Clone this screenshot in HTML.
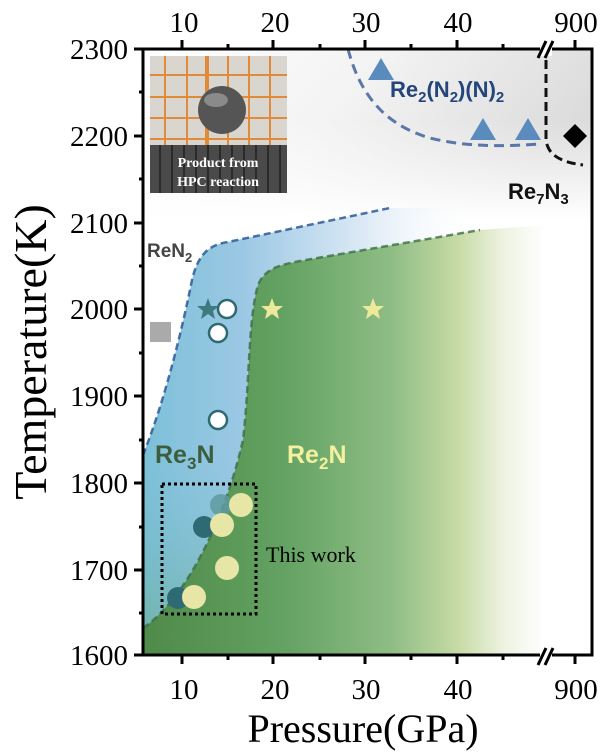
<!DOCTYPE html>
<html><head><meta charset="utf-8"><style>
html,body{margin:0;padding:0;background:#fff;}
svg{display:block;}
.t{font-family:"Liberation Serif",serif;}
.s{font-family:"Liberation Sans",sans-serif;font-weight:bold;}
</style></head><body>
<svg width="606" height="753" viewBox="0 0 606 753" xmlns="http://www.w3.org/2000/svg">
<defs>
<linearGradient id="gray" x1="0" y1="0" x2="1" y2="0.3">
<stop offset="0" stop-color="#fff"/><stop offset="0.5" stop-color="#f3f3f3"/><stop offset="1" stop-color="#dcdcdc"/></linearGradient>
<linearGradient id="grayv" x1="0" y1="0" x2="0" y2="1">
<stop offset="0" stop-color="#fff" stop-opacity="0"/><stop offset="1" stop-color="#fff" stop-opacity="1"/></linearGradient>
<linearGradient id="blue" gradientUnits="userSpaceOnUse" x1="143" y1="0" x2="480" y2="0">
<stop offset="0" stop-color="#7cc0d8"/><stop offset="0.3" stop-color="#9cc8e4"/><stop offset="0.65" stop-color="#dbe9f5"/><stop offset="1" stop-color="#fff" stop-opacity="0"/></linearGradient>
<linearGradient id="bluev" x1="0" y1="0" x2="0" y2="1">
<stop offset="0.5" stop-color="#6fbcd0" stop-opacity="0"/><stop offset="1" stop-color="#6aab8a"/></linearGradient>
<linearGradient id="green" gradientUnits="userSpaceOnUse" x1="143" y1="0" x2="545" y2="0">
<stop offset="0" stop-color="#4f8a4a"/><stop offset="0.35" stop-color="#63a262"/><stop offset="0.62" stop-color="#8fbd85"/><stop offset="0.78" stop-color="#c6daa4"/><stop offset="0.9" stop-color="#eef3e2"/><stop offset="1" stop-color="#fff"/></linearGradient>
</defs>
<rect x="143" y="49" width="449" height="170" fill="url(#gray)"/>
<rect x="143" y="120" width="449" height="100" fill="url(#grayv)"/>
<path d="M143,455 C165,400 182,330 192,280 C198,255 208,245 228,242 L390,208 L480,208 L480,655 L143,655 Z" fill="url(#blue)"/>
<path d="M143,455 C165,400 182,330 192,280 L250,280 L250,640 L143,640 Z" fill="url(#bluev)" opacity="0.6"/>
<path d="M143,628 C185,600 225,520 243,440 C250,380 248,320 258,285 C265,268 280,265 300,261 L480,230 L545,225 L550,655 L143,655 Z" fill="url(#green)"/>
<path d="M143,455 C165,400 182,330 192,280 C198,255 208,245 228,242 L390,208" fill="none" stroke="#2c5a9a" stroke-width="2.5" stroke-dasharray="7,4" opacity="0.85"/>
<path d="M143,628 C185,600 225,520 243,440 C250,380 248,320 258,285 C265,268 280,265 300,261 L480,230" fill="none" stroke="#3e6e45" stroke-width="2.5" stroke-dasharray="7,4" opacity="0.8"/>
<path d="M348,49 C360,95 385,125 430,138 C470,148 510,146 540,144" fill="none" stroke="#2a4f8f" stroke-width="3" stroke-dasharray="10,6" opacity="0.75"/>
<path d="M546,60 L546,140 C548,155 560,162 583,165" fill="none" stroke="#111" stroke-width="3" stroke-dasharray="9,5"/>
<rect x="150" y="56" width="137" height="137" fill="#d9d6cf"/>
<g stroke="#e08a3a" stroke-width="2">
<line x1="165" y1="56" x2="165" y2="145"/><line x1="187" y1="56" x2="187" y2="145"/><line x1="207" y1="56" x2="207" y2="145" stroke-width="4"/><line x1="228" y1="56" x2="228" y2="145"/><line x1="249" y1="56" x2="249" y2="145"/><line x1="270" y1="56" x2="270" y2="145"/>
<line x1="150" y1="75" x2="287" y2="75"/><line x1="150" y1="97" x2="287" y2="97"/><line x1="150" y1="118" x2="287" y2="118"/><line x1="150" y1="139" x2="287" y2="139"/>
</g>
<rect x="150" y="145" width="137" height="48" fill="#4a4a4a"/>
<g stroke="#2a2a2a" stroke-width="2"><line x1="160" y1="145" x2="160" y2="193"/><line x1="172" y1="145" x2="172" y2="193"/><line x1="184" y1="145" x2="184" y2="193"/><line x1="196" y1="145" x2="196" y2="193"/><line x1="208" y1="145" x2="208" y2="193"/><line x1="220" y1="145" x2="220" y2="193"/><line x1="232" y1="145" x2="232" y2="193"/><line x1="244" y1="145" x2="244" y2="193"/><line x1="256" y1="145" x2="256" y2="193"/><line x1="268" y1="145" x2="268" y2="193"/><line x1="280" y1="145" x2="280" y2="193"/></g>
<circle cx="222" cy="110" r="24" fill="#555"/>
<ellipse cx="216" cy="100" rx="12" ry="7" fill="#8a8a8a"/>
<text x="218" y="167" class="t" font-size="14" font-weight="bold" fill="#fff" text-anchor="middle">Product from</text>
<text x="218" y="186" class="t" font-size="14" font-weight="bold" fill="#fff" text-anchor="middle">HPC reaction</text>
<polygon points="368,80 381,58 394,80" fill="#5b8bbd"/>
<polygon points="470,140 483,118 496,140" fill="#5b8bbd"/>
<polygon points="515,140 528,118 541,140" fill="#5b8bbd"/>
<polygon points="575,124 587,136 575,148 563,136" fill="#000"/>
<text x="390" y="97" class="s" font-size="22" fill="#24457a">Re<tspan font-size="15" dy="5">2</tspan><tspan dy="-5">(N</tspan><tspan font-size="15" dy="5">2</tspan><tspan dy="-5">)(N)</tspan><tspan font-size="15" dy="5">2</tspan></text>
<text x="508" y="199" class="s" font-size="22" fill="#111">Re<tspan font-size="15" dy="5">7</tspan><tspan dy="-5">N</tspan><tspan font-size="15" dy="5">3</tspan></text>
<text x="147" y="257" class="s" font-size="19" fill="#444">ReN<tspan font-size="13" dy="5">2</tspan></text>
<text x="155" y="463" class="s" font-size="25" fill="#3c5e3c">Re<tspan font-size="17" dy="6">3</tspan><tspan dy="-6">N</tspan></text>
<text x="287" y="463" class="s" font-size="25" fill="#f3f0a0">Re<tspan font-size="17" dy="6">2</tspan><tspan dy="-6">N</tspan></text>
<rect x="150" y="322" width="21" height="20" fill="#aaa"/>
<polygon points="208,298 211,306 219,306 213,311 215,319 208,314 201,319 203,311 197,306 205,306" fill="#3f7a80"/>
<polygon points="272,298 275,306 283,306 277,311 279,319 272,314 265,319 267,311 261,306 269,306" fill="#ece99b"/>
<polygon points="373,298 376,306 384,306 378,311 380,319 373,314 366,319 368,311 362,306 370,306" fill="#ece99b"/>
<g fill="#fff" stroke="#2e6a70" stroke-width="2.5"><circle cx="227" cy="309" r="9"/><circle cx="218" cy="333" r="9"/><circle cx="218" cy="420" r="9"/></g>
<circle cx="221" cy="505" r="11" fill="#5f9aa0" opacity="0.85"/>
<circle cx="204" cy="527" r="11" fill="#2e6a73"/>
<circle cx="178" cy="598" r="11" fill="#2e6a73"/>
<circle cx="241" cy="505" r="12" fill="#e8e6a6"/>
<circle cx="222" cy="525" r="12" fill="#e8e6a6"/>
<circle cx="227" cy="568" r="12" fill="#e8e6a6"/>
<circle cx="194" cy="597" r="12" fill="#e8e6a6"/>
<rect x="162" y="484" width="94" height="130" fill="none" stroke="#000" stroke-width="3" stroke-dasharray="3,3"/>
<text x="266" y="562" class="t" font-size="22" fill="#000">This work</text>
<path d="M143,49 H592 V655 H143 Z" fill="none" stroke="#000" stroke-width="3"/>
<rect x="540" y="40" width="12" height="16" fill="#fff"/>
<rect x="540" y="648" width="12" height="16" fill="#fff"/>
<g stroke="#000" stroke-width="3">
<line x1="538" y1="58" x2="546" y2="41"/><line x1="545" y1="58" x2="553" y2="41"/>
<line x1="538" y1="665" x2="546" y2="648"/><line x1="545" y1="665" x2="553" y2="648"/>
<line x1="182" y1="49" x2="182" y2="40"/><line x1="273" y1="49" x2="273" y2="40"/><line x1="365" y1="49" x2="365" y2="40"/><line x1="457" y1="49" x2="457" y2="40"/><line x1="575" y1="49" x2="575" y2="40"/>
<line x1="228" y1="49" x2="228" y2="44"/><line x1="320" y1="49" x2="320" y2="44"/><line x1="411" y1="49" x2="411" y2="44"/><line x1="503" y1="49" x2="503" y2="44"/>
<line x1="182" y1="655" x2="182" y2="664"/><line x1="273" y1="655" x2="273" y2="664"/><line x1="365" y1="655" x2="365" y2="664"/><line x1="457" y1="655" x2="457" y2="664"/><line x1="575" y1="655" x2="575" y2="664"/>
<line x1="228" y1="655" x2="228" y2="660"/><line x1="320" y1="655" x2="320" y2="660"/><line x1="411" y1="655" x2="411" y2="660"/><line x1="503" y1="655" x2="503" y2="660"/>
<line x1="143" y1="49" x2="134" y2="49"/><line x1="143" y1="136" x2="134" y2="136"/><line x1="143" y1="223" x2="134" y2="223"/><line x1="143" y1="309" x2="134" y2="309"/><line x1="143" y1="396" x2="134" y2="396"/><line x1="143" y1="483" x2="134" y2="483"/><line x1="143" y1="570" x2="134" y2="570"/><line x1="143" y1="655" x2="134" y2="655"/>
<line x1="143" y1="92" x2="139" y2="92"/><line x1="143" y1="179" x2="139" y2="179"/><line x1="143" y1="266" x2="139" y2="266"/><line x1="143" y1="353" x2="139" y2="353"/><line x1="143" y1="440" x2="139" y2="440"/><line x1="143" y1="527" x2="139" y2="527"/><line x1="143" y1="613" x2="139" y2="613"/>
</g>
<g class="t" font-size="29" fill="#000" text-anchor="middle">
<text x="184" y="32">10</text><text x="275" y="32">20</text><text x="366" y="32">30</text><text x="458" y="32">40</text><text x="576" y="32">900</text>
<text x="184" y="699">10</text><text x="275" y="699">20</text><text x="366" y="699">30</text><text x="458" y="699">40</text><text x="576" y="699">900</text>
</g>
<g class="t" font-size="29" fill="#000" text-anchor="end">
<text x="128" y="59">2300</text><text x="128" y="146">2200</text><text x="128" y="233">2100</text><text x="128" y="319">2000</text><text x="128" y="406">1900</text><text x="128" y="493">1800</text><text x="128" y="580">1700</text><text x="128" y="665">1600</text>
</g>
<text x="363" y="742" class="t" font-size="40" text-anchor="middle">Pressure(GPa)</text>
<text transform="translate(46,352) rotate(-90)" class="t" font-size="46" text-anchor="middle">Temperature(K)</text>
</svg>
</body></html>
